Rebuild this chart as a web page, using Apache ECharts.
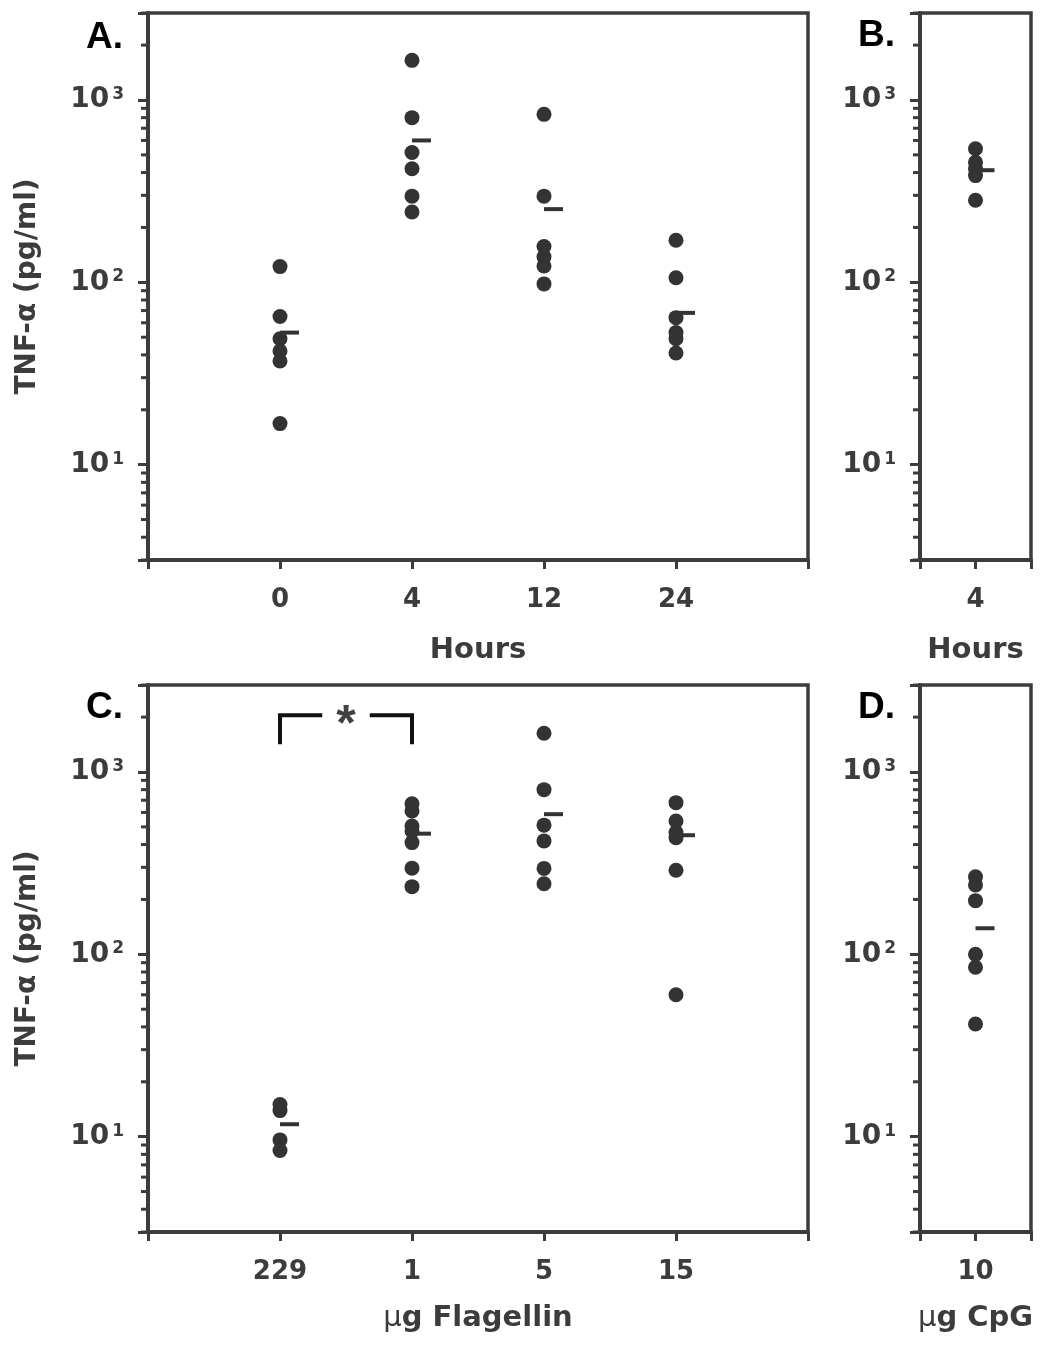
<!DOCTYPE html>
<html>
<head>
<meta charset="utf-8">
<script src="https://cdn.jsdelivr.net/npm/echarts@6/dist/echarts.min.js"></script>
<style>html,body{margin:0;padding:0;background:#fff}#c{width:1050px;height:1347px}</style>
</head>
<body>
<div id="c"></div>
<script>
// ---------- data ----------
const hoursCats = ['0', '4', '12', '24'];
const hours0 = [122, 65, 49, 42, 37, 16.8];
const hours4 = [1650, 800, 515, 420, 297, 243];
const hours12 = [834, 297, 157, 138, 123, 98];
const hours24 = [170, 106, 64, 53, 49, 41];
const hoursMeans = [53, 600, 252, 68];

const cpgHoursCats = ['4'];
const cpg4h = [540, 455, 420, 385, 282];
const cpg4hMeans = [412];

const flagCats = ['229', '1', '5', '15'];
const flag229 = [15.0, 13.9, 9.6, 8.4];
const flag1 = [669, 611, 506, 475, 410, 297, 235];
const flag5 = [1630, 800, 511, 419, 296, 244];
const flag15 = [679, 539, 465, 436, 289, 60];
const flagMeans = [11.7, 459, 587, 450];

const cpgDoseCats = ['10'];
const cpg10 = [266, 240, 197, 100, 85, 41.5];
const cpg10Means = [139];

const bracketFrom = 1, bracketTo = 2;      // category positions ('229' -> '1')
const bracketTop = 2050, bracketBottom = 1420;

// ---------- style ----------
const AX = '#3c3c3c';
const DOT = '#333333';
const FONT = '"DejaVu Sans", sans-serif';
const LFONT = '"Liberation Sans", Arial, sans-serif';

const grids = [
  {left: 148, top: 13, width: 660, height: 547},
  {left: 920, top: 13, width: 111, height: 547},
  {left: 148, top: 685, width: 660, height: 547},
  {left: 920, top: 685, width: 111, height: 547}
].map(g => Object.assign(g, {show: true, borderColor: AX, borderWidth: 3.5, backgroundColor: 'transparent'}));

function pts(groups) {
  const out = [];
  groups.forEach((arr, i) => arr.forEach(v => out.push([i + 1, v])));
  return out;
}
function meanPts(m) { return m.map((v, i) => [i + 1, v]); }

const minorVals = [];
for (let k = 0; k <= 3; k++) for (let m = 2; m <= 9; m++) {
  const v = m * Math.pow(10, k);
  if (v >= 3 && v <= 3000) minorVals.push(v);
}

function xAxis(idx, cats, name, gap) {
  return {
    type: 'value', gridIndex: idx, min: 0, max: cats.length + 1, interval: 1,
    axisLine: {show: true, lineStyle: {color: AX, width: 4}},
    axisTick: {show: true, length: 9, lineStyle: {color: AX, width: 3}},
    splitLine: {show: false},
    axisLabel: {
      margin: 27, color: AX, fontFamily: FONT, fontWeight: 'bold', fontSize: 26,
      formatter: v => cats[v - 1] || ''
    },
    name: name, nameLocation: 'middle', nameGap: gap,
    nameTextStyle: {
      color: AX, fontFamily: FONT, fontWeight: 'bold', fontSize: 29,
      rich: {mu: {fontFamily: FONT, fontWeight: 'normal', fontSize: 29, color: AX},
             t: {fontFamily: FONT, fontWeight: 'bold', fontSize: 29, color: AX}}
    }
  };
}
function yAxis(idx, withName) {
  return {
    type: 'log', logBase: 10, gridIndex: idx, min: 3, max: 3000,
    axisLine: {show: true, lineStyle: {color: AX, width: 4}},
    axisTick: {show: true, length: 10, lineStyle: {color: AX, width: 3}},
    splitLine: {show: false},
    axisLabel: {
      margin: 24, color: AX,
      formatter: v => {
        const l = Math.log10(v), e = Math.round(l);
        if (Math.abs(l - e) > 1e-6) return '';
        return '{b|10}{s|' + e + '}';
      },
      rich: {
        b: {fontFamily: FONT, fontWeight: 'bold', fontSize: 28, color: AX},
        s: {fontFamily: FONT, fontWeight: 'bold', fontSize: 17, color: AX, verticalAlign: 'top', padding: [0, 0, 0, 3]}
      }
    },
    name: withName ? 'TNF-α (pg/ml)' : '', nameLocation: 'middle', nameGap: 106,
    nameTextStyle: {color: AX, fontFamily: FONT, fontWeight: 'bold', fontSize: 28}
  };
}

function dots(idx, data) {
  return {type: 'scatter', xAxisIndex: idx, yAxisIndex: idx, data: data, symbol: 'circle',
          symbolSize: 15, itemStyle: {color: DOT, opacity: 1}, silent: true, z: 3};
}
function means(idx, data) {
  return {type: 'scatter', xAxisIndex: idx, yAxisIndex: idx, data: data, symbol: 'rect',
          symbolSize: [19, 4], symbolOffset: [9.5, 0], itemStyle: {color: DOT, opacity: 1}, silent: true, z: 4};
}
function minorTicks(idx) {
  return {
    type: 'custom', xAxisIndex: idx, yAxisIndex: idx, silent: true, clip: false,
    data: minorVals.map(v => [0, v]),
    renderItem: (params, api) => {
      const p = api.coord([0, api.value(1)]);
      return {type: 'line', shape: {x1: p[0] - 7, y1: p[1], x2: p[0], y2: p[1]},
              style: {stroke: AX, lineWidth: 3}};
    }
  };
}

const option = {
  animation: false,
  backgroundColor: '#ffffff',
  grid: grids,
  xAxis: [
    xAxis(0, hoursCats, 'Hours', 76),
    xAxis(1, cpgHoursCats, 'Hours', 76),
    xAxis(2, flagCats, '{mu|μ}{t|g Flagellin}', 72),
    xAxis(3, cpgDoseCats, '{mu|μ}{t|g CpG}', 72)
  ],
  yAxis: [yAxis(0, true), yAxis(1, false), yAxis(2, true), yAxis(3, false)],
  series: [
    minorTicks(0), minorTicks(1), minorTicks(2), minorTicks(3),
    dots(0, pts([hours0, hours4, hours12, hours24])),
    means(0, meanPts(hoursMeans)),
    dots(1, pts([cpg4h])),
    means(1, meanPts(cpg4hMeans)),
    dots(2, pts([flag229, flag1, flag5, flag15])),
    means(2, meanPts(flagMeans)),
    dots(3, pts([cpg10])),
    means(3, meanPts(cpg10Means)),
    {type: 'line', xAxisIndex: 2, yAxisIndex: 2, symbol: 'none', silent: true,
     lineStyle: {color: '#111', width: 4, join: 'miter'},
     data: [[bracketFrom, bracketBottom], [bracketFrom, bracketTop], [bracketFrom + 0.32, bracketTop]]},
    {type: 'line', xAxisIndex: 2, yAxisIndex: 2, symbol: 'none', silent: true,
     lineStyle: {color: '#111', width: 4, join: 'miter'},
     data: [[bracketTo - 0.32, bracketTop], [bracketTo, bracketTop], [bracketTo, bracketBottom]]},
    {type: 'scatter', xAxisIndex: 2, yAxisIndex: 2, silent: true, symbolSize: 1,
     itemStyle: {color: 'rgba(0,0,0,0)'},
     data: [[(bracketFrom + bracketTo) / 2, bracketTop]],
     label: {show: true, position: 'inside', formatter: '*', offset: [0, 11],
             fontFamily: LFONT, fontWeight: 'bold', fontSize: 50, color: '#111'}}
  ],
  graphic: [
    {type: 'text', left: 86, top: 19, style: {text: 'A.', font: 'bold 37px "Liberation Sans", Arial, sans-serif', fill: '#000'}},
    {type: 'text', left: 858, top: 17, style: {text: 'B.', font: 'bold 37px "Liberation Sans", Arial, sans-serif', fill: '#000'}},
    {type: 'text', left: 86, top: 689, style: {text: 'C.', font: 'bold 37px "Liberation Sans", Arial, sans-serif', fill: '#000'}},
    {type: 'text', left: 858, top: 689, style: {text: 'D.', font: 'bold 37px "Liberation Sans", Arial, sans-serif', fill: '#000'}}
  ]
};

const chart = echarts.init(document.getElementById('c'), null, {renderer: 'canvas'});
chart.setOption(option);
</script>
</body>
</html>
